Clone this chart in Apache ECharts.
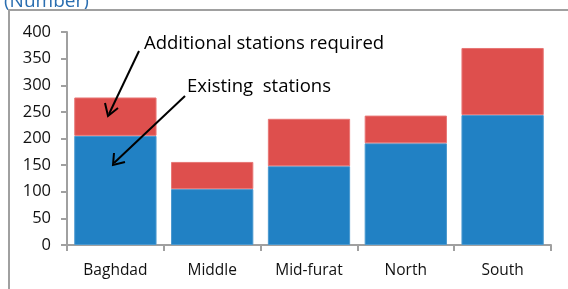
<!DOCTYPE html>
<html><head><meta charset="utf-8">
<script src="https://cdn.jsdelivr.net/npm/echarts@6/dist/echarts.min.js"></script>
<style>html,body{margin:0;padding:0;background:#fff}#c{width:568px;height:289px}</style>
</head><body><div id="c"></div>
<script>
const categories = ['Baghdad', 'Middle', 'Mid-furat', 'North', 'South'];
const existing = [205, 105, 148, 191, 244];
const additional = [72, 51, 89, 52, 126];
const yTicks = [0, 50, 100, 150, 200, 250, 300, 350, 400];

const FONT = 'Open Sans';
const chart = echarts.init(document.getElementById('c'), null, {renderer: 'canvas'});
chart.setOption({
  animation: false,
  title: {
    text: '(Number)', left: -1, top: -13,
    textStyle: {color: '#2A6EB0', fontFamily: FONT, fontSize: 19, fontWeight: 'normal'}
  },
  grid: {left: 67, right: 17, top: 32, bottom: 44},
  xAxis: {
    type: 'category', data: categories,
    axisLine: {lineStyle: {color: '#a0a0a0', width: 2}},
    axisTick: {show: true, length: 6, lineStyle: {color: '#a0a0a0', width: 2}},
    axisLabel: {color: '#111', fontFamily: FONT, fontSize: 15.5, margin: 18}
  },
  yAxis: {
    type: 'value', min: yTicks[0], max: yTicks[yTicks.length - 1], interval: 50,
    axisLine: {show: true, lineStyle: {color: '#a0a0a0', width: 2}},
    axisTick: {show: true, length: 6, lineStyle: {color: '#a0a0a0', width: 2}},
    splitLine: {show: false},
    axisLabel: {color: '#111', fontFamily: FONT, fontSize: 16.5, margin: 16}
  },
  series: [
    {name: 'Existing stations', type: 'bar', stack: 's', data: existing, barCategoryGap: '15%',
     itemStyle: {color: '#2181C4', borderColor: '#4A98CF', borderWidth: 1}},
    {name: 'Additional stations required', type: 'bar', stack: 's', data: additional,
     itemStyle: {color: '#DE4F4D', borderColor: '#E87675', borderWidth: 1}}
  ],
  graphic: [
    {type: 'rect', z: 100, shape: {x: 9, y: 10, width: 620, height: 320}, silent: true,
     style: {fill: 'none', stroke: '#a0a0a0', lineWidth: 2}},
    {type: 'text', z: 100, left: 144, top: 34,
     style: {text: 'Additional stations required', font: '18.5px "Open Sans"', fill: '#000'}},
    {type: 'text', z: 100, left: 187, top: 77,
     style: {text: 'Existing  stations', font: '18.5px "Open Sans"', fill: '#000'}},
    {type: 'line', z: 100, shape: {x1: 139, y1: 51, x2: 109, y2: 114}, style: {stroke: '#000', lineWidth: 2}},
    {type: 'polyline', z: 100, shape: {points: [[105, 103], [108, 116], [118, 108]]}, style: {stroke: '#000', lineWidth: 2, fill: 'none'}},
    {type: 'line', z: 100, shape: {x1: 185, y1: 96, x2: 114, y2: 163}, style: {stroke: '#000', lineWidth: 2}},
    {type: 'polyline', z: 100, shape: {points: [[114, 153], [113, 165], [125, 162]]}, style: {stroke: '#000', lineWidth: 2, fill: 'none'}}
  ]
});
</script></body></html>
